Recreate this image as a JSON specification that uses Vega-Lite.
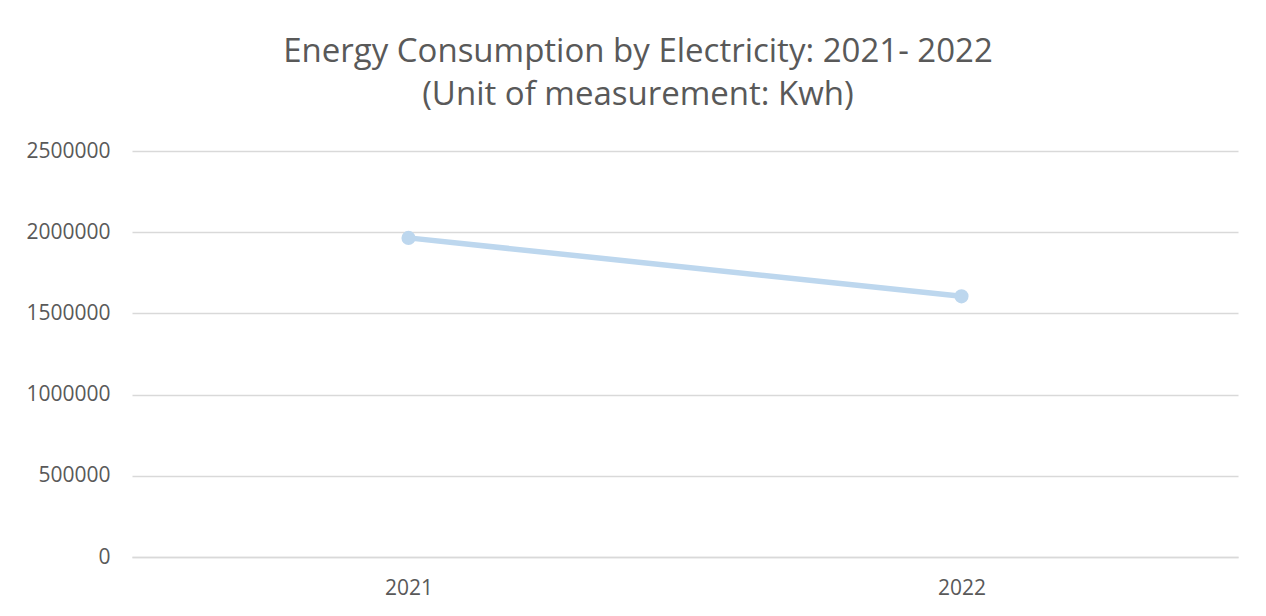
{
  "$schema": "https://vega.github.io/schema/vega-lite/v6.json",
  "width": 1266,
  "height": 616,
  "autosize": {"type": "fit", "contains": "padding"},
  "padding": {"left": 25, "right": 28, "top": 36, "bottom": 18},
  "background": "white",
  "title": {
    "text": ["Energy Consumption by Electricity: 2021- 2022", "(Unit of measurement: Kwh)"],
    "font": "Open Sans",
    "fontSize": 33,
    "fontWeight": "normal",
    "color": "#595959",
    "lineHeight": 43,
    "anchor": "middle",
    "frame": "bounds",
    "dx": 6,
    "offset": 28
  },
  "data": {
    "values": [
      {"year": "2021", "kwh": 1965000},
      {"year": "2022", "kwh": 1605000}
    ]
  },
  "mark": {"type": "line", "color": "#bdd7ee", "strokeWidth": 5.5, "point": {"filled": true, "size": 200, "color": "#bdd7ee", "opacity": 1}},
  "encoding": {
    "x": {
      "field": "year",
      "type": "ordinal",
      "title": null,
      "scale": {"padding": 0.5},
      "axis": {
        "labelAngle": 0,
        "labelFont": "Open Sans",
        "labelFontSize": 21,
        "labelColor": "#595959",
        "labelPadding": 20,
        "ticks": false,
        "domain": true,
        "domainColor": "#d9d9d9",
        "domainWidth": 1.5,
        "grid": false
      }
    },
    "y": {
      "field": "kwh",
      "type": "quantitative",
      "title": null,
      "scale": {"domain": [0, 2500000], "nice": false},
      "axis": {
        "values": [0, 500000, 1000000, 1500000, 2000000, 2500000],
        "format": "d",
        "labelFont": "Open Sans",
        "labelFontSize": 21,
        "labelColor": "#595959",
        "labelPadding": 22,
        "ticks": false,
        "domain": false,
        "grid": true,
        "gridColor": "#d9d9d9",
        "gridWidth": 1.5
      }
    }
  },
  "config": {"view": {"stroke": null}}
}
